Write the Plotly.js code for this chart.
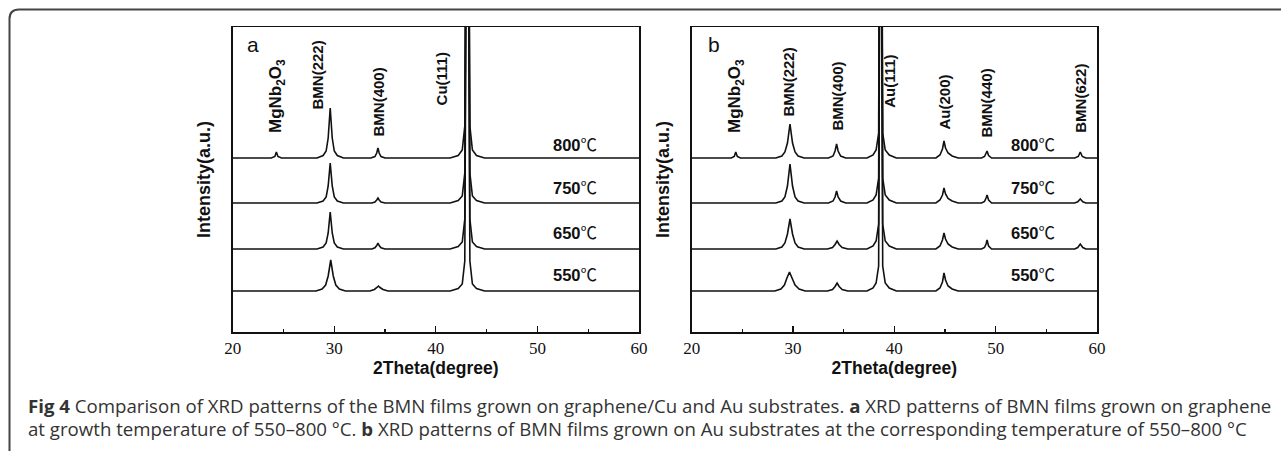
<!DOCTYPE html>
<html>
<head>
<meta charset="utf-8">
<script src="https://cdn.plot.ly/plotly-3.0.1.min.js"></script>
<style>html,body{margin:0;padding:0;background:#fff;}#chart{width:1281px;height:451px;}</style>
</head>
<body>
<div id="chart"></div>
<script>
// ---------- DATA ----------
const temperatures = ["550", "650", "750", "800"];
const offsets = [41, 83, 129, 174];   // vertical stacking offset per temperature (a.u.)

// Panel a: films on graphene/Cu
const a550_x = [20, 28.2, 28.8, 29.15, 29.4, 29.65, 29.9, 30.15, 30.5, 31.1, 33.5, 33.95, 34.2, 34.35, 34.5, 34.8, 35.3, 41.4, 42.2, 42.6, 42.85, 43.1, 43.35, 43.6, 44.0, 44.8, 60];
const a550_y = [0, 0, 2, 6, 15, 31, 15, 6, 2, 0, 0, 1.5, 3.5, 5, 3.5, 1.5, 0, 0, 2.5, 7, 30, 600, 30, 7, 2.5, 0, 0];

const a650_x = [20, 28.3, 28.9, 29.2, 29.4, 29.6, 29.8, 30.0, 30.3, 30.9, 33.7, 34.0, 34.18, 34.3, 34.42, 34.6, 35.0, 41.4, 42.2, 42.6, 42.85, 43.1, 43.35, 43.6, 44.0, 44.8, 60];
const a650_y = [0, 0, 2, 6, 16, 37, 16, 6, 2, 0, 0, 1.2, 3.5, 6, 3.5, 1.2, 0, 0, 2.5, 7, 30, 600, 30, 7, 2.5, 0, 0];

const a750_x = [20, 28.3, 28.9, 29.2, 29.4, 29.6, 29.8, 30.0, 30.3, 30.9, 33.7, 34.0, 34.18, 34.3, 34.42, 34.6, 35.0, 41.4, 42.2, 42.6, 42.85, 43.1, 43.35, 43.6, 44.0, 44.8, 60];
const a750_y = [0, 0, 2, 6, 17, 40, 17, 6, 2, 0, 0, 1, 3, 5, 3, 1, 0, 0, 2.5, 7, 30, 600, 30, 7, 2.5, 0, 0];

const a800_x = [20, 23.8, 24.15, 24.3, 24.45, 24.8, 28.3, 28.9, 29.2, 29.4, 29.6, 29.8, 30.0, 30.3, 30.9, 33.6, 34.0, 34.18, 34.3, 34.42, 34.6, 35.0, 41.4, 42.2, 42.6, 42.85, 43.1, 43.35, 43.6, 44.0, 44.8, 60];
const a800_y = [0, 0, 1.5, 6, 1.5, 0, 0, 2.5, 7, 20, 50, 20, 7, 2.5, 0, 0, 1.5, 5, 10, 5, 1.5, 0, 0, 2.5, 8, 32, 600, 32, 8, 2.5, 0, 0];

// Panel b: films on Au
const b550_x = [20, 28.2, 28.8, 29.15, 29.4, 29.65, 29.9, 30.2, 30.6, 31.2, 33.4, 33.9, 34.15, 34.35, 34.55, 34.85, 35.4, 37.3, 37.9, 38.2, 38.45, 38.65, 38.85, 39.1, 39.5, 40.2, 44.1, 44.5, 44.75, 44.9, 45.05, 45.3, 45.7, 46.3, 60];
const b550_y = [0, 0, 2, 6, 13, 19, 13, 6, 2, 0, 0, 1.5, 4.5, 8, 4.5, 1.5, 0, 0, 3, 8, 25, 600, 25, 8, 3, 0, 0, 3, 9, 18, 11, 5, 2, 0, 0];

const b650_x = [20, 28.3, 28.9, 29.2, 29.45, 29.7, 29.95, 30.2, 30.5, 31.1, 33.4, 33.9, 34.15, 34.35, 34.55, 34.85, 35.4, 37.3, 37.9, 38.2, 38.45, 38.65, 38.85, 39.1, 39.5, 40.2, 44.1, 44.5, 44.75, 44.9, 45.05, 45.3, 45.7, 46.3, 48.6, 48.9, 49.05, 49.15, 49.3, 49.6, 57.8, 58.1, 58.35, 58.6, 58.9, 60];
const b650_y = [0, 0, 2, 6, 15, 30, 15, 6, 2, 0, 0, 1.5, 4.5, 8, 4.5, 1.5, 0, 0, 3, 8, 25, 600, 25, 8, 3, 0, 0, 3, 9, 16, 10, 5, 2, 0, 0, 1.5, 5, 9, 3, 0, 0, 1.5, 5, 1.5, 0, 0];

const b750_x = [20, 28.3, 28.9, 29.2, 29.45, 29.7, 29.95, 30.2, 30.5, 31.1, 33.5, 33.95, 34.15, 34.3, 34.45, 34.7, 35.2, 37.3, 37.9, 38.2, 38.45, 38.65, 38.85, 39.1, 39.5, 40.2, 44.1, 44.5, 44.75, 44.9, 45.05, 45.3, 45.7, 46.3, 48.6, 48.9, 49.05, 49.15, 49.3, 49.6, 57.8, 58.1, 58.35, 58.6, 58.9, 60];
const b750_y = [0, 0, 2, 6, 17, 39, 17, 6, 2, 0, 0, 2, 6, 12, 6, 2, 0, 0, 3, 8, 25, 600, 25, 8, 3, 0, 0, 3, 8, 15, 9, 4.5, 2, 0, 0, 1.5, 5, 8, 3, 0, 0, 1.2, 4, 1.2, 0, 0];

const b800_x = [20, 23.9, 24.2, 24.35, 24.5, 24.8, 28.3, 28.9, 29.2, 29.45, 29.7, 29.95, 30.2, 30.5, 31.1, 33.5, 33.95, 34.15, 34.3, 34.45, 34.7, 35.2, 37.3, 37.9, 38.2, 38.45, 38.65, 38.85, 39.1, 39.5, 40.2, 44.1, 44.5, 44.75, 44.9, 45.05, 45.3, 45.7, 46.3, 48.6, 48.9, 49.05, 49.15, 49.3, 49.6, 57.8, 58.15, 58.35, 58.55, 58.9, 60];
const b800_y = [0, 0, 1.5, 6, 1.5, 0, 0, 2, 6, 15, 34, 15, 6, 2, 0, 0, 2, 7, 14, 7, 2, 0, 0, 3, 8, 25, 600, 25, 8, 3, 0, 0, 3, 9, 17, 10, 5, 2, 0, 0, 1.5, 4, 7, 2.5, 0, 0, 1.5, 6, 1.5, 0, 0];

const panelA = [[a550_x, a550_y], [a650_x, a650_y], [a750_x, a750_y], [a800_x, a800_y]];
const panelB = [[b550_x, b550_y], [b650_x, b650_y], [b750_x, b750_y], [b800_x, b800_y]];

// Peak labels
const peakLabelsA = ["MgNb<sub>2</sub>O<sub>3</sub>", "BMN(222)", "BMN(400)", "Cu(111)"];
const peakLabelsB = ["MgNb<sub>2</sub>O<sub>3</sub>", "BMN(222)", "BMN(400)", "Au(111)", "Au(200)", "BMN(440)", "BMN(622)"];
const tickVals = [20, 30, 40, 50, 60];
const tickText = ["20", "30", "40", "50", "60"];

// label placement (layout, not data)
const labPosA = [[24.36, 197], [28.3, 220], [34.4, 194], [40.6, 225]];
const labPosB = [[24.37, 197], [29.6, 214], [34.35, 199], [39.5, 222], [44.9, 200], [49.05, 192], [58.35, 197]];
const tempLabelY = [57, 99, 144, 187];

// ---------- BUILD ----------
const W = 1281, H = 451;
const px = v => v / W, py = v => 1 - v / H;
const lineStyle = {color: '#111', width: 1.6};
const traces = [];
panelA.forEach((d, i) => traces.push({x: d[0], y: d[1].map(v => v + offsets[i]), type: 'scatter', mode: 'lines', line: lineStyle, xaxis: 'x', yaxis: 'y', name: temperatures[i] + ' ℃ (a)', showlegend: false, hoverinfo: 'skip'}));
panelB.forEach((d, i) => traces.push({x: d[0], y: d[1].map(v => v + offsets[i]), type: 'scatter', mode: 'lines', line: lineStyle, xaxis: 'x2', yaxis: 'y2', name: temperatures[i] + ' ℃ (b)', showlegend: false, hoverinfo: 'skip'}));

const labFont = {family: 'Liberation Sans, Arial, sans-serif', size: 15, color: '#111'};
const ann = [];
const labSize = t => (t.indexOf('<sub>') >= 0 ? 17 : 15);
peakLabelsA.forEach((t, i) => ann.push({text: '<b>' + t + '</b>', x: labPosA[i][0], y: labPosA[i][1], xref: 'x', yref: 'y', textangle: -90, xanchor: 'center', yanchor: 'bottom', showarrow: false, font: Object.assign({}, labFont, {size: labSize(t)})}));
peakLabelsB.forEach((t, i) => ann.push({text: '<b>' + t + '</b>', x: labPosB[i][0], y: labPosB[i][1], xref: 'x2', yref: 'y2', textangle: -90, xanchor: 'center', yanchor: 'bottom', showarrow: false, font: Object.assign({}, labFont, {size: labSize(t)})}));
temperatures.forEach((t, i) => {
  ['x', 'x2'].forEach((xr, k) => ann.push({text: '<b>' + t + '</b>℃', x: 53.7, y: tempLabelY[i], xref: xr, yref: k ? 'y2' : 'y', xanchor: 'center', yanchor: 'middle', showarrow: false, font: {family: 'Liberation Sans, Arial, Noto Sans CJK SC, sans-serif', size: 16.5, color: '#111'}}));
});
ann.push({text: 'a', x: px(253), y: py(45), xref: 'paper', yref: 'paper', showarrow: false, xanchor: 'center', yanchor: 'middle', font: {family: 'Liberation Sans, Arial, sans-serif', size: 21, color: '#111'}});
ann.push({text: 'b', x: px(714), y: py(45), xref: 'paper', yref: 'paper', showarrow: false, xanchor: 'center', yanchor: 'middle', font: {family: 'Liberation Sans, Arial, sans-serif', size: 21, color: '#111'}});
const capFont = {family: 'Open Sans, sans-serif', size: 18.65, color: '#333'};
ann.push({text: '<b>Fig 4</b> Comparison of XRD patterns of the BMN films grown on graphene/Cu and Au substrates. <b>a</b> XRD patterns of BMN films grown on graphene', x: px(26), y: py(405), xref: 'paper', yref: 'paper', xanchor: 'left', yanchor: 'middle', showarrow: false, font: capFont});
ann.push({text: 'at growth temperature of 550–800 °C. <b>b</b> XRD patterns of BMN films grown on Au substrates at the corresponding temperature of 550–800 °C', x: px(26), y: py(428), xref: 'paper', yref: 'paper', xanchor: 'left', yanchor: 'middle', showarrow: false, font: capFont});

const xAxisBase = {
  range: [20, 60], tickvals: tickVals, ticktext: tickText, ticks: 'inside', ticklen: 6, tickwidth: 1.2, tickcolor: '#111',
  minor: {tickvals: [25, 35, 45, 55], ticks: 'inside', ticklen: 3, tickwidth: 1.2, tickcolor: '#111'},
  showline: true, linecolor: '#111', linewidth: 1.5, mirror: true, showgrid: false, zeroline: false,
  tickfont: {family: 'Liberation Serif, Times New Roman, serif', size: 17, color: '#111'},
  title: {text: '<b>2Theta(degree)</b>', font: {family: 'Liberation Sans, Arial, sans-serif', size: 17.5, color: '#111'}, standoff: 5},
  automargin: false, fixedrange: true
};
const yAxisBase = {
  range: [0, 305], showticklabels: false, ticks: '', showline: true, linecolor: '#111', linewidth: 1.5, mirror: true,
  showgrid: false, zeroline: false, automargin: false, fixedrange: true,
  title: {text: '<b>Intensity(a.u.)</b>', font: {family: 'Liberation Sans, Arial, sans-serif', size: 18, color: '#111'}, standoff: 16}
};
const layout = {
  width: W, height: H, margin: {l: 0, r: 0, t: 0, b: 0}, paper_bgcolor: '#fff', plot_bgcolor: '#fff', showlegend: false,
  xaxis: Object.assign({}, xAxisBase, {domain: [px(232.7), px(639)], anchor: 'y'}),
  yaxis: Object.assign({}, yAxisBase, {domain: [py(332), py(27)], anchor: 'x'}),
  xaxis2: Object.assign({}, xAxisBase, {domain: [px(691.7), px(1097)], anchor: 'y2'}),
  yaxis2: Object.assign({}, yAxisBase, {domain: [py(332), py(27)], anchor: 'x2'}),
  annotations: ann,
  shapes: [{type: 'path', xref: 'paper', yref: 'paper',
    path: `M ${px(9.5)} ${py(451)} L ${px(9.5)} ${py(19)} Q ${px(9.5)} ${py(9.5)} ${px(19)} ${py(9.5)} L ${px(1281)} ${py(9.5)}`,
    line: {color: '#444', width: 2}}]
};
Plotly.newPlot('chart', traces, layout, {staticPlot: true, displayModeBar: false});
</script>
</body>
</html>
